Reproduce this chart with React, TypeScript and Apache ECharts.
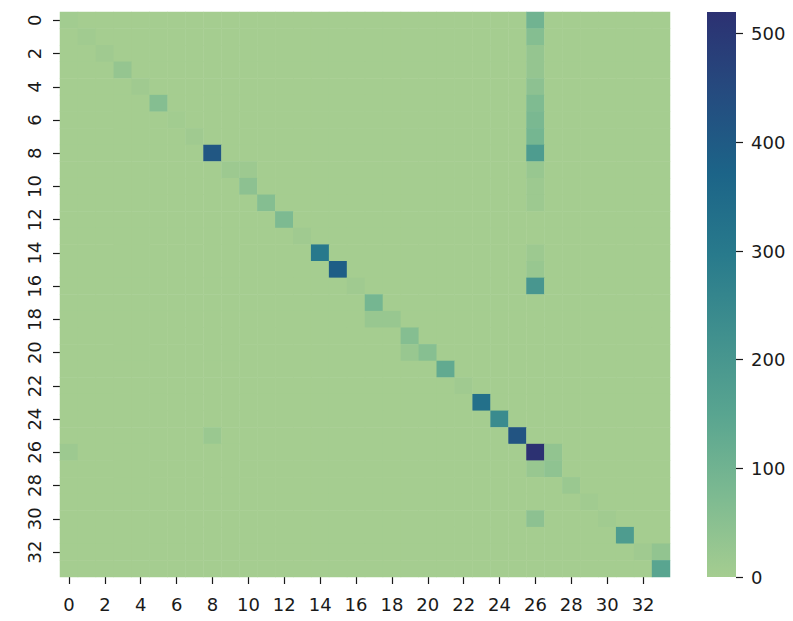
import React, { useEffect, useRef } from "react";
import * as echarts from "echarts";

// Class indices shown on both axes of the confusion matrix
const classLabels = [
  "0", "1", "2", "3", "4", "5", "6", "7", "8", "9",
  "10", "11", "12", "13", "14", "15", "16", "17", "18", "19",
  "20", "21", "22", "23", "24", "25", "26", "27", "28", "29",
  "30", "31", "32", "33",
];

// Correct predictions (true class i predicted as class i)
const diagonalCounts = [
  5, 8, 10, 30, 10, 60, 5, 10, 410, 15,
  45, 60, 75, 10, 300, 390, 10, 90, 25, 60,
  55, 130, 10, 330, 240, 420, 520, 40, 20, 8,
  8, 180, 10, 150,
];

// Misclassifications as [true row, predicted column, count]
const offDiagonalCells: [number, number, number][] = [
  [0, 26, 100], [1, 26, 60], [2, 26, 30], [3, 26, 30], [4, 26, 45],
  [5, 26, 70], [6, 26, 80], [7, 26, 90], [8, 26, 180], [9, 26, 25],
  [10, 26, 15], [11, 26, 15], [14, 26, 15], [15, 26, 25], [16, 26, 200],
  [30, 26, 45], [27, 26, 25], [26, 27, 35], [32, 33, 35], [25, 8, 20],
  [26, 0, 15], [9, 10, 15], [18, 17, 25], [20, 19, 25],
];

// Colour bar scale
const colorMax = 520;
const colorbarTicks = [0, 100, 200, 300, 400, 500];

// seaborn "crest" colour ramp, low to high
const crestColors = [
  "#a5cd90", "#7dba91", "#59a590", "#40908e",
  "#287a8c", "#1c6488", "#254b7f", "#2c3172",
];

function buildCells(): [number, number, number][] {
  const matrix = classLabels.map(() => classLabels.map(() => 0));
  diagonalCounts.forEach((v, i) => {
    matrix[i][i] = v;
  });
  offDiagonalCells.forEach(([r, c, v]) => {
    matrix[r][c] = v;
  });
  const cells: [number, number, number][] = [];
  matrix.forEach((row, r) => row.forEach((v, c) => cells.push([c, r, v])));
  return cells;
}

const FONT = "DejaVu Sans";
const TEXT_COLOR = "#1a1a1a";

export default function App() {
  const ref = useRef<HTMLDivElement>(null);

  useEffect(() => {
    if (!ref.current) return;
    const chart = echarts.init(ref.current, undefined, { renderer: "svg" });

    const gradient = new echarts.graphic.LinearGradient(
      0, 1, 0, 0,
      crestColors.map((color, i) => ({ offset: i / (crestColors.length - 1), color }))
    );

    const tickStyle = { show: true, length: 7, lineStyle: { color: TEXT_COLOR, width: 1.2 } };
    const labelStyle = { color: TEXT_COLOR, fontSize: 18, fontFamily: FONT };

    chart.setOption({
      animation: false,
      backgroundColor: "#ffffff",
      grid: [
        { left: 60, top: 12, width: 610, height: 565 },
        { left: 707, top: 12, width: 29, height: 565 },
      ],
      xAxis: [
        {
          type: "category",
          gridIndex: 0,
          data: classLabels,
          position: "bottom",
          axisLine: { show: false },
          axisTick: { ...tickStyle, alignWithLabel: true, interval: 1 },
          axisLabel: { ...labelStyle, interval: 1, margin: 18 },
          splitLine: { show: false },
        },
        {
          type: "category",
          gridIndex: 1,
          data: ["scale"],
          show: false,
        },
      ],
      yAxis: [
        {
          type: "category",
          gridIndex: 0,
          data: classLabels,
          inverse: true,
          axisLine: { show: false },
          axisTick: { ...tickStyle, alignWithLabel: true, interval: 1 },
          axisLabel: { ...labelStyle, interval: 1, rotate: 90, margin: 17 },
          splitLine: { show: false },
        },
        {
          type: "value",
          gridIndex: 1,
          position: "right",
          min: 0,
          max: colorMax,
          axisLine: { show: false },
          axisTick: { ...tickStyle, customValues: colorbarTicks },
          axisLabel: { ...labelStyle, customValues: colorbarTicks, margin: 15 },
          splitLine: { show: false },
        },
      ],
      visualMap: {
        type: "continuous",
        show: false,
        min: 0,
        max: colorMax,
        seriesIndex: 0,
        inRange: { color: crestColors },
      },
      series: [
        {
          type: "heatmap",
          xAxisIndex: 0,
          yAxisIndex: 0,
          data: buildCells(),
          itemStyle: { borderWidth: 0 },
          emphasis: { disabled: true },
          progressive: 0,
        },
        {
          type: "bar",
          xAxisIndex: 1,
          yAxisIndex: 1,
          data: [colorMax],
          barWidth: "100%",
          itemStyle: { color: gradient },
          silent: true,
        },
      ],
    });

    return () => chart.dispose();
  }, []);

  return (
    <div
      ref={ref}
      style={{ position: "fixed", left: 0, top: 0, width: 793, height: 621 }}
    />
  );
}
